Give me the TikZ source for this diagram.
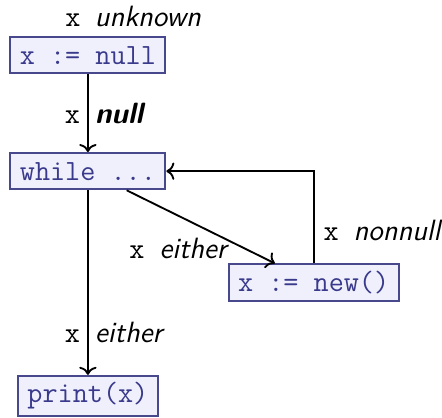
\documentclass[tikz,border=0pt]{standalone}
\usepackage{xcolor}
\usetikzlibrary{arrows.meta, positioning, calc}

\definecolor{stmtdraw}{RGB}{72,72,140}
\definecolor{stmttext}{RGB}{58,58,140}
\definecolor{stmtfill}{RGB}{240,240,252}
\newcommand{\picsize}{\fontsize{11pt}{13pt}\selectfont}

\begin{document}
\begin{tikzpicture}[
		node distance=1cm and 1cm,
		stmt/.style={rectangle, draw=stmtdraw, fill=stmtfill, line width=0.75pt, text=stmttext, font=\picsize\ttfamily, inner xsep=3.55pt, inner ysep=2.5pt, minimum height=13.6pt},
		var/.style={font=\picsize\ttfamily, inner xsep=2.6pt, text height=7.6pt, text depth=0pt},
		val/.style={font=\picsize\sffamily\itshape, inner xsep=2.4pt, text height=7.6pt, text depth=0pt},
		lbl/.style={font=\picsize},
		flow/.style={-{To[length=3pt, width=6.5pt]}, line width=0.7pt}
		]
		\useasboundingbox (0,0) rectangle (165.75pt,-156.75pt);
		
		% Statements
		\node[stmt] (init) at (32.96pt,-20.74pt) {x := null};
		\node[stmt, below=29.1pt of init] (while) {while ...};
		\node[stmt, below right=27.4pt and 23pt of while] (new) {x := new()};
		\node[stmt, below=69.2pt of while] (print) {print(x)};
		
		% Entry state
		\coordinate[above=3.6pt of init] (entry);
		\node[var, anchor=base east] (entryx) at (entry) {x};
		\node[val, anchor=base west] (entryv) at (entry) {unknown};
		
		% Flow edges
		\draw[flow] (init) -- node[var, left] (nullx) {x} node[val, right] (nullv) {\bfseries null} (while);
		\draw[flow] (while) -- node[lbl, below left, pos=0.73, xshift=1.5pt, yshift=5.6pt] (loopin) {\texttt{x\ }\textsf{\textit{either}}} (new);
		\draw[flow] (new) |- node[lbl, right, pos=0.18] (loopback) {\texttt{x\ }\textsf{\textit{nonnull}}} (while);
		\draw[flow] (while) -- node[var, left, pos=0.77] (exitx) {x} node[val, right, pos=0.77] (exitv) {either} (print);
		
	\end{tikzpicture}
\end{document}
